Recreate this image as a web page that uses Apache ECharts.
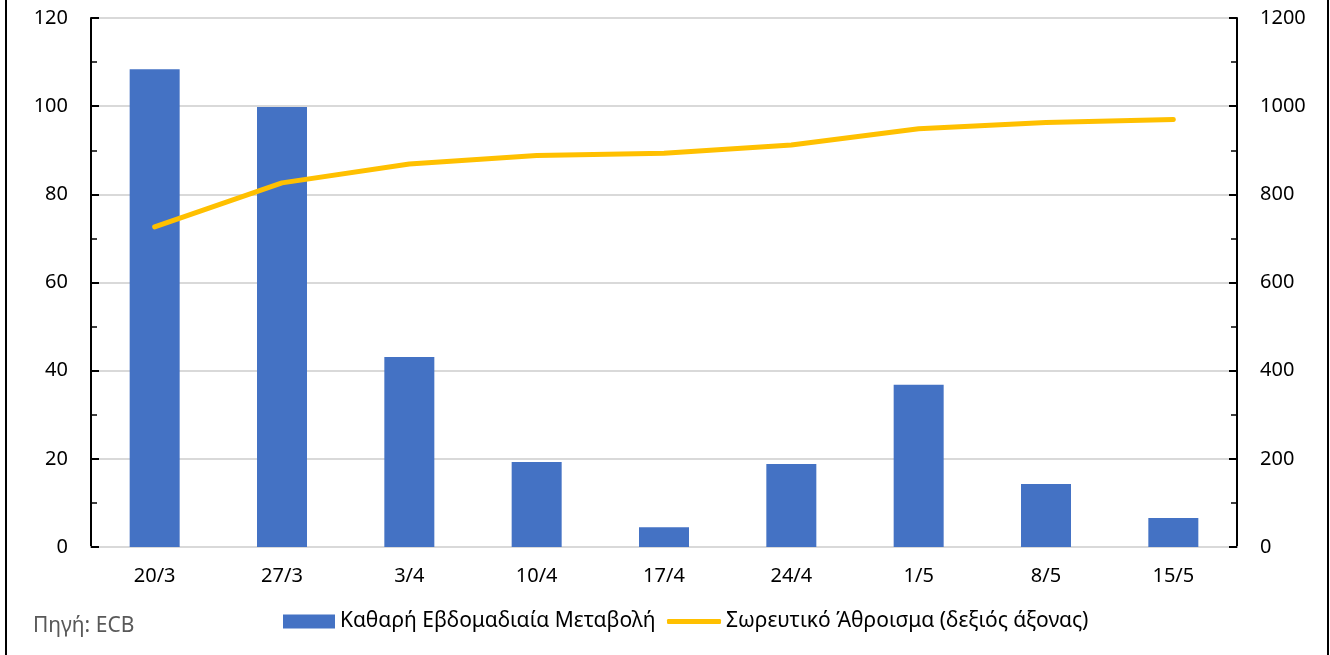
<!DOCTYPE html>
<html>
<head>
<meta charset="utf-8">
<script src="https://cdn.jsdelivr.net/npm/echarts@6/dist/echarts.min.js"></script>
<style>
  html, body { margin: 0; padding: 0; background: #fff; }
  #chart { width: 1330px; height: 655px; }
</style>
</head>
<body>
<div id="chart"></div>
<script>
var categories = ["20/3", "27/3", "3/4", "10/4", "17/4", "24/4", "1/5", "8/5", "15/5"];
var weeklyChange = [108.4, 99.8, 43.1, 19.3, 4.5, 18.8, 36.8, 14.3, 6.6];
var cumulative = [726, 826, 869, 888, 893, 912, 949, 963, 970];
var leftTicks = [0, 120, 20];
var rightTicks = [0, 1200, 200];

var font = "Noto Sans";
var barName = "Καθαρή Εβδομαδιαία Μεταβολή";
var lineName = "Σωρευτικό Άθροισμα (δεξιός άξονας)";
var myChart = echarts.init(document.getElementById("chart"));

var option = {
  animation: false,
  textStyle: { fontFamily: font },
  grid: { left: 91, right: 93, top: 18, bottom: 108 },
  legend: [
    {
      top: 606,
      left: 278,
      itemWidth: 52,
      itemHeight: 14,
      textStyle: { fontSize: 21, color: "#000", fontFamily: font },
      data: [{ name: barName, icon: "rect" }]
    },
    {
      top: 606,
      left: 662,
      itemWidth: 54,
      itemHeight: 5,
      textStyle: { fontSize: 21, color: "#000", fontFamily: font },
      data: [{ name: lineName, icon: "roundRect" }]
    }
  ],
  xAxis: {
    type: "category",
    data: categories,
    axisLine: { lineStyle: { color: "#d9d9d9", width: 2 } },
    axisTick: { show: false },
    axisLabel: { fontSize: 20, color: "#000", margin: 19 }
  },
  yAxis: [
    {
      type: "value",
      min: leftTicks[0], max: leftTicks[1], interval: leftTicks[2],
      axisLine: { show: true, lineStyle: { color: "#000", width: 2 } },
      axisTick: { show: true, inside: true, length: 8, lineStyle: { color: "#000", width: 2 } },
      minorTick: { show: true, splitNumber: 2, length: 6, lineStyle: { color: "#000", width: 1.5 } },
      splitLine: { lineStyle: { color: "#d9d9d9", width: 2 } },
      axisLabel: { fontSize: 20, color: "#000", margin: 23 }
    },
    {
      type: "value",
      min: rightTicks[0], max: rightTicks[1], interval: rightTicks[2],
      axisLine: { show: true, lineStyle: { color: "#000", width: 2 } },
      axisTick: { show: true, inside: true, length: 8, lineStyle: { color: "#000", width: 2 } },
      minorTick: { show: true, splitNumber: 2, length: 6, lineStyle: { color: "#000", width: 1.5 } },
      splitLine: { show: false },
      axisLabel: { fontSize: 20, color: "#000", margin: 23, formatter: function (v) { return String(v); } }
    }
  ],
  series: [
    {
      name: barName,
      type: "bar",
      data: weeklyChange,
      barWidth: 50,
      itemStyle: { color: "#4472C4" }
    },
    {
      name: lineName,
      type: "line",
      yAxisIndex: 1,
      data: cumulative,
      symbol: "none",
      lineStyle: { color: "#FFC000", width: 5, cap: "round", join: "round" },
      itemStyle: { color: "#FFC000" }
    }
  ],
  graphic: [
    { type: "line", shape: { x1: 6, y1: 0, x2: 6, y2: 655 }, style: { stroke: "#000", lineWidth: 2 } },
    { type: "line", shape: { x1: 1328, y1: 0, x2: 1328, y2: 655 }, style: { stroke: "#000", lineWidth: 2 } },
    { type: "text", left: 33, top: 616, style: { text: "Πηγή: ECB", fontSize: 21, fill: "#595959", fontFamily: font } }
  ]
};

myChart.setOption(option);
</script>
</body>
</html>
